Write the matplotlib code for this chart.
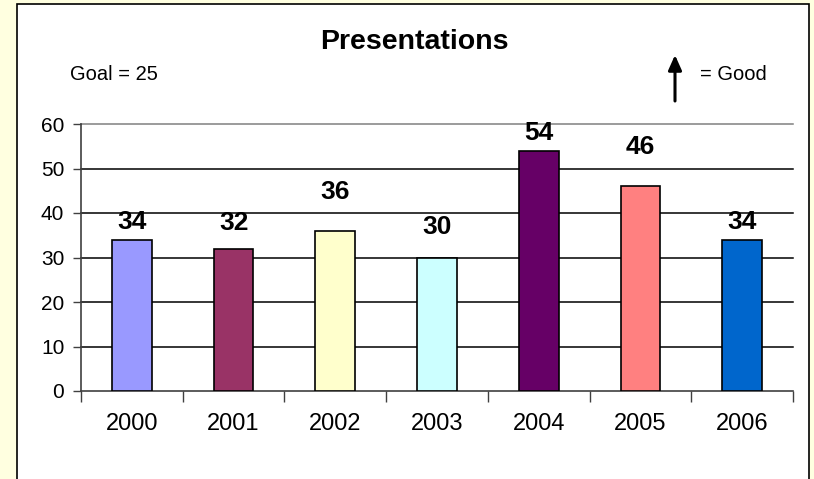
import matplotlib
matplotlib.use("Agg")
import matplotlib.pyplot as plt
from matplotlib.patches import Rectangle, FancyArrowPatch

years = ["2000", "2001", "2002", "2003", "2004", "2005", "2006"]
presentations = [34, 32, 36, 30, 54, 46, 34]
bar_colors = ["#9999FF", "#993366", "#FFFFCC", "#CCFFFF", "#660066", "#FF8080", "#0066CC"]
label_offsets_px = [18, 26, 39, 31, 18, 39, 18]
y_ticks = [0, 10, 20, 30, 40, 50, 60]

plt.rcParams['font.family'] = ['Liberation Sans', 'DejaVu Sans']

W, H = 814, 479
fig = plt.figure(figsize=(W / 100, H / 100), dpi=100)
fig.patch.set_facecolor("#FFFFE0")

# white chart frame
frame = Rectangle((17 / W, -0.05), (809 - 17) / W, 1.05 - 4 / H,
                  transform=fig.transFigure, facecolor="white",
                  edgecolor="black", linewidth=1.2, zorder=-10)
fig.add_artist(frame)

ax = fig.add_axes([81 / W, 1 - 391 / H, (793 - 81) / W, (391 - 124) / H])
ax.set_facecolor("none")
ax.set_zorder(1)

x = list(range(len(years)))
bars = ax.bar(x, presentations, width=0.39, color=bar_colors,
              edgecolor="black", linewidth=1.2, zorder=3)

for xi, v, off in zip(x, presentations, label_offsets_px):
    ax.annotate(str(v), (xi, v), xytext=(0, off), textcoords="offset pixels",
                ha="center", va="center", fontsize=19, fontweight="bold",
                zorder=4)

ax.set_xlim(-0.5, len(years) - 0.5)
ax.set_ylim(0, 60)
ax.set_yticks(y_ticks)
ax.set_yticklabels([str(t) for t in y_ticks], fontsize=15)
for t in y_ticks[1:]:
    ax.axhline(t, color="#808080" if t == 60 else "black", linewidth=1.1, zorder=1,
               clip_on=False)

ax.set_xticks(x)
ax.set_xticklabels(years, fontsize=17)
ax.tick_params(axis="x", length=0, pad=16)
ax.set_xticks([i - 0.5 for i in range(len(years) + 1)], minor=True)
ax.tick_params(axis="x", which="minor", length=8, width=1, direction="out", color="#404040")
ax.tick_params(axis="y", length=6, width=1, direction="out", color="#404040", pad=6)

for s in ["top", "right"]:
    ax.spines[s].set_visible(False)
ax.spines["left"].set_color("#404040")
ax.spines["bottom"].set_color("#404040")
ax.spines["left"].set_linewidth(1.2)
ax.spines["bottom"].set_linewidth(1.2)

fig.text(414 / W, 1 - 42 / H, "Presentations", ha="center", va="center",
         fontsize=20.5, fontweight="bold")
fig.text(70 / W, 1 - 74 / H, "Goal = 25", ha="left", va="center", fontsize=14.5)
fig.text(700 / W, 1 - 74 / H, "= Good", ha="left", va="center", fontsize=14.5)
arrow = FancyArrowPatch((675 / W, 1 - 101 / H), (675 / W, 1 - 55 / H),
                        transform=fig.transFigure,
                        arrowstyle="-|>,head_length=9,head_width=4",
                        color="black", linewidth=2.2, mutation_scale=1,
                        shrinkA=0, shrinkB=0)
fig.add_artist(arrow)

fig.savefig("out.png", dpi=100, facecolor=fig.get_facecolor())
